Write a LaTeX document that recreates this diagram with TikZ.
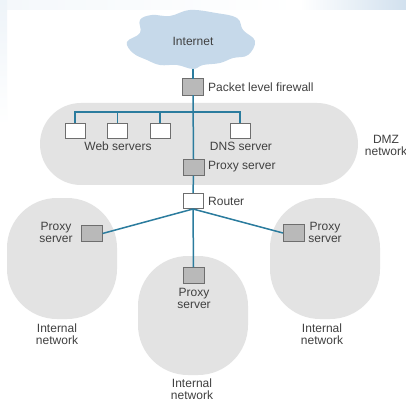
\documentclass[tikz,border=0pt]{standalone}
\usepackage{fontspec}
\setmainfont{Liberation Sans}
\definecolor{blob}{HTML}{E3E3E3}
\definecolor{cloudc}{HTML}{C6D9EA}
\definecolor{linkc}{HTML}{2B7C9E}
\definecolor{boxg}{HTML}{B9B9B9}
\definecolor{edgeg}{HTML}{6E6E6E}
\definecolor{txt}{HTML}{404040}
\tikzset{
  net/.style={fill=blob,draw=none,rounded corners=#1},
  link/.style={draw=linkc,line width=1.5pt},
  graybox/.style={draw=edgeg,fill=boxg,line width=0.9pt,minimum width=21pt,minimum height=16.5pt,inner sep=0pt,outer sep=0pt},
  whitebox/.style={draw=edgeg,fill=white,line width=0.8pt,minimum width=20pt,minimum height=15pt,inner sep=0pt,outer sep=0pt},
  lab/.style={text=txt,font=\fontsize{12}{12}\selectfont,inner sep=0pt,align=center},
}
\begin{document}
\begin{tikzpicture}[x=1pt,y=-1pt]
\useasboundingbox (0,0) rectangle (406,403);
% page tint
\fill[white] (0,0) rectangle (406,403);
\shade[left color=white,right color=cloudc!80] (300,0) rectangle (406,9.5);
\shade[left color=cloudc!18,right color=white] (7,0) rectangle (300,9.5);
\shade[top color=cloudc!30,bottom color=white] (0,0) rectangle (7,125);
% networks
\fill[net=41pt] (40,103) rectangle (358,185);
\fill[net=50pt] (7,198) rectangle (117,319);
\fill[net=50pt] (138,256) rectangle (248,375);
\fill[net=50pt] (270,198) rectangle (380,319);
% cloud
\fill[cloudc] plot[smooth cycle,tension=0.65] coordinates {
 (140,20) (152,15) (170,16) (190,10) (216,13) (237,18) (243,30) (255,41)
 (248,55) (233,58) (220,63) (203,65) (193,69) (177,65) (160,65) (147,60)
 (133,53) (127,42) (140,33)};
\node[lab] (inet) at (193,41) {Internet};
\coordinate (cb) at (193,69);
\coordinate (bus) at (193,112);
\coordinate (hub) at (193,209);
% devices
\node[graybox] (fw) at (193,87) {};
\node[graybox] (dmzp) at (193.5,167.5) {};
\node[whitebox] (rt) at (193,200.5) {};
\node[whitebox] (w1) at (75,130.5) {};
\node[whitebox] (w2) at (117.5,130.5) {};
\node[whitebox] (w3) at (160,130.5) {};
\node[whitebox] (dns) at (240,130.5) {};
\node[graybox] (pl) at (92,233.5) {};
\node[graybox] (pc) at (193.5,275.5) {};
\node[graybox] (pr) at (293.5,233) {};
\draw[link] (cb) -- (fw.north);
\draw[link] (fw.south) -- (dmzp.north);
\draw[link] (dmzp.south) -- (rt.north);
\draw[link] (bus) -| (w1.north);
\draw[link] (bus -| w2.north) -- (w2.north);
\draw[link] (bus -| w3.north) -- (w3.north);
\draw[link] (bus) -| (dns.north);
\draw[link] (hub) -- (pl.east);
\draw[link] (hub) -- (pc.north);
\draw[link] (hub) -- (pr.west);
% labels
\node[lab,anchor=west] (l0) at (208,87) {Packet level firewall};
\node[lab] (l1) at (118,146) {Web servers};
\node[lab] (l2) at (241,146) {DNS server};
\node[lab,anchor=west] (l3) at (208,167) {Proxy server};
\node[lab] (l4) at (386,145) {DMZ\\network};
\node[lab,anchor=west] (l5) at (208,201) {Router};
\node[lab] (l6) at (56,232) {Proxy\\server};
\node[lab] (l7) at (325,232) {Proxy\\server};
\node[lab] (l8) at (194,298) {Proxy\\server};
\node[lab] (l9) at (57,334) {Internal\\network};
\node[lab] (l10) at (322,334) {Internal\\network};
\node[lab] (l11) at (192,389) {Internal\\network};
\end{tikzpicture}
\end{document}
